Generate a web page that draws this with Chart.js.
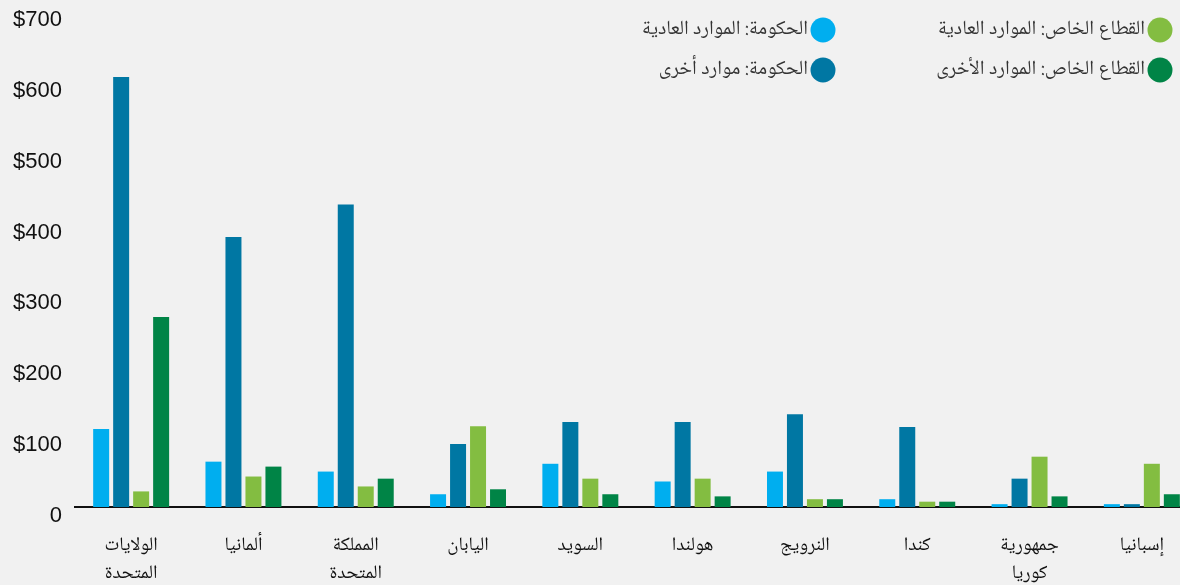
<!DOCTYPE html>
<html lang="ar">
<head>
<meta charset="utf-8">
<script src="https://cdn.jsdelivr.net/npm/chart.js@4/dist/chart.umd.min.js"></script>
<style>
  html, body { margin: 0; padding: 0; background: #f1f1f1; overflow: hidden; }
  #wrap { position: relative; width: 1200px; height: 585px; }
</style>
</head>
<body>
<div id="wrap"><canvas id="myChart"></canvas></div>
<script>
// البيانات
var countries = [
  ['الولايات', 'المتحدة'], 'ألمانيا', ['المملكة', 'المتحدة'], 'اليابان', 'السويد',
  'هولندا', 'النرويج', 'كندا', ['جمهورية', 'كوريا'], 'إسبانيا'
];
var seriesNames = [
  'الحكومة: الموارد العادية',
  'الحكومة: موارد أخرى',
  'القطاع الخاص: الموارد العادية',
  'القطاع الخاص: الموارد الأخرى'
];
var govRegular    = [110, 64, 50, 18, 61, 36, 50, 11, 4, 4];
var govOther      = [607, 381, 427, 89, 120, 120, 131, 113, 40, 4];
var privRegular   = [22, 43, 29, 114, 40, 40, 11, 7.5, 71, 61];
var privOther     = [268, 57, 40, 25, 18, 15, 11, 7.5, 15, 18];
var yTicks = [0, 100, 200, 300, 400, 500, 600, 700];

var colors = ['#00aeef', '#0077a3', '#83bd41', '#008446'];
var arabicFont = '"Noto Naskh Arabic", "DejaVu Sans", sans-serif';

// 凡例 (2列, 右から左)
var legendPlugin = {
  id: 'gridLegend',
  afterDraw: function (chart) {
    var ctx = chart.ctx;
    // 円の中心
    var pos = [[823, 30], [823, 70], [1160, 30], [1160, 70]];
    ctx.save();
    chart.data.datasets.forEach(function (ds, i) {
      var p = pos[i];
      ctx.beginPath();
      ctx.fillStyle = ds.backgroundColor;
      ctx.arc(p[0], p[1], 12.5, 0, Math.PI * 2);
      ctx.fill();
      ctx.fillStyle = '#333';
      ctx.font = '20px ' + arabicFont;
      ctx.textAlign = 'right';
      ctx.textBaseline = 'middle';
      ctx.direction = 'rtl';
      ctx.fillText(ds.label, p[0] - 15, p[1] + 1);
    });
    ctx.restore();
  }
};

var ctx = document.getElementById('myChart');
new Chart(ctx, {
  type: 'bar',
  data: {
    labels: countries,
    datasets: [
      { label: seriesNames[0], data: govRegular, backgroundColor: colors[0] },
      { label: seriesNames[1], data: govOther, backgroundColor: colors[1] },
      { label: seriesNames[2], data: privRegular, backgroundColor: colors[2] },
      { label: seriesNames[3], data: privOther, backgroundColor: colors[3] }
    ]
  },
  options: {
    responsive: true,
    maintainAspectRatio: false,
    animation: false,
    devicePixelRatio: 1,
    layout: { padding: { top: 11, right: 2, left: 0, bottom: 0 } },
    datasets: {
      bar: { categoryPercentage: 0.712, barPercentage: 0.8 }
    },
    plugins: {
      legend: { display: false },
      tooltip: { enabled: false }
    },
    scales: {
      x: {
        grid: { display: false, drawTicks: false },
        border: { display: true, color: '#111', width: 2 },
        ticks: {
          color: '#111',
          padding: 26,
          maxRotation: 0,
          autoSkip: false,
          font: { family: arabicFont, size: 19, lineHeight: 1.5 }
        },
        afterFit: function (scale) { scale.height = 78; }
      },
      y: {
        min: 0,
        max: 700,
        afterBuildTicks: function (scale) {
          scale.ticks = yTicks.map(function (v) { return { value: v }; });
        },
        grid: { display: false, drawTicks: false },
        border: { display: false },
        ticks: {
          color: '#111',
          padding: 13,
          labelOffset: 9,
          font: { family: '"Liberation Sans", Arial, sans-serif', size: 22 },
          callback: function (v) { return v === 0 ? '0' : '$' + v; }
        },
        afterFit: function (scale) {
          scale.width = 75;
          scale.paddingTop = 0;
          scale.paddingBottom = 0;
        }
      }
    }
  },
  plugins: [legendPlugin]
});
</script>
</body>
</html>
